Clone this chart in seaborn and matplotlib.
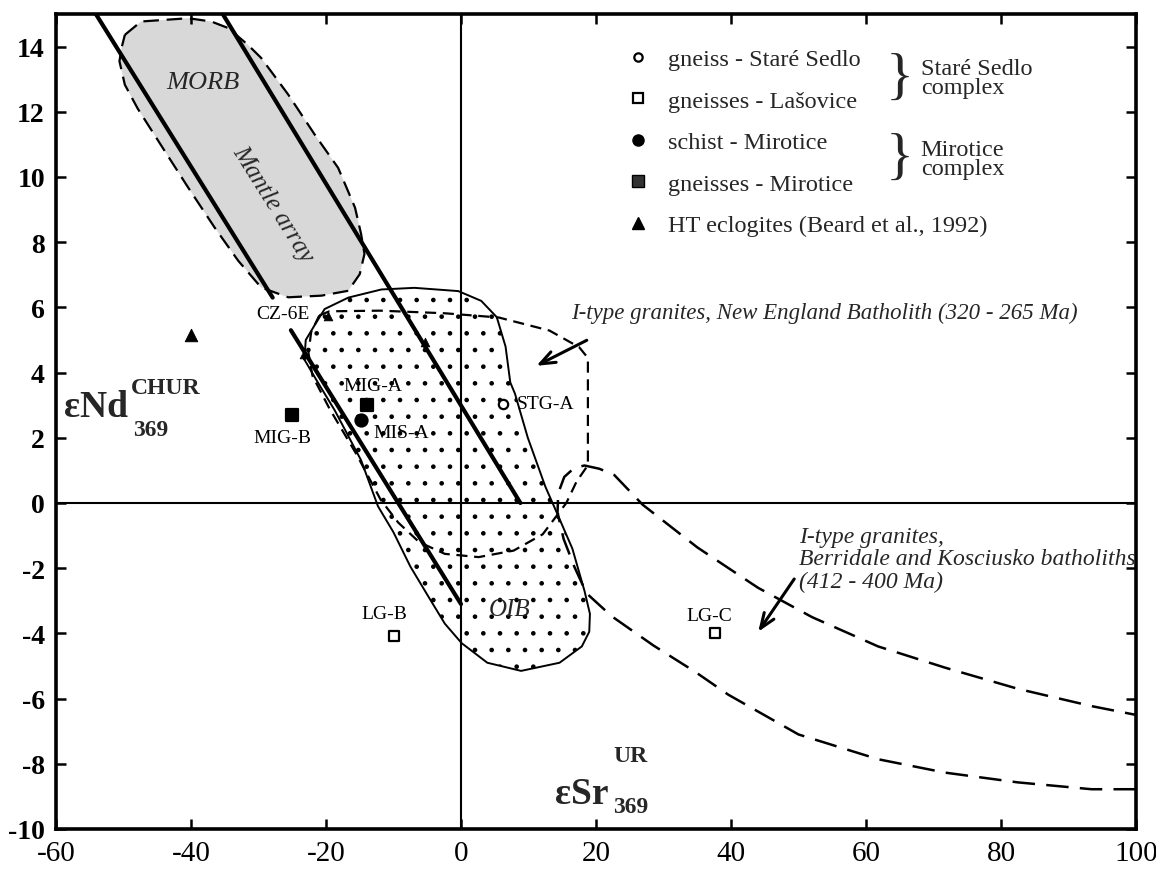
import matplotlib
matplotlib.use("Agg")
import matplotlib.pyplot as plt
import seaborn as sns
from matplotlib.lines import Line2D

# ---- axis ticks ------------------------------------------------------------
x_ticks = [-60, -40, -20, 0, 20, 40, 60, 80, 100]
y_ticks = [-10, -8, -6, -4, -2, 0, 2, 4, 6, 8, 10, 12, 14]

# ---- mantle array: two bounding lines (eSr, eNd) --------------------------
mantle_left_top_x = [-54.1, -27.9]
mantle_left_top_y = [15.0, 6.3]
mantle_left_low_x = [-25.2, 0.0]
mantle_left_low_y = [5.3, -3.1]
mantle_right_x = [-35.3, 8.8]
mantle_right_y = [15.0, 0.0]

# MORB / mantle array shaded envelope
mantle_env_x = [-49.8, -47.4, -40.4, -37.0, -34.5, -31.6, -29.6, -25.6, -21.7,
                -18.2, -15.7, -14.8, -14.3, -15.0, -16.7, -20.7, -25.6, -29.6,
                -33.0, -36.5, -40.4, -43.9, -47.9, -49.8, -50.6, -50.3, -49.8]
mantle_env_y = [14.36, 14.77, 14.87, 14.77, 14.57, 14.06, 13.65, 12.53, 11.31,
                10.28, 9.06, 8.25, 7.64, 7.02, 6.51, 6.36, 6.31, 6.61,
                7.43, 8.45, 9.67, 10.8, 12.1, 12.83, 13.55, 13.95, 14.36]

# OIB field (solid outline, dotted)
oib_x = [-23.2, -23.0, -21.7, -20.2, -16.7, -11.8, -6.9, -0.4, 3.0, 5.3, 6.6,
         7.3, 8.0, 9.9, 12.5, 14.2, 16.5, 18.3, 19.1, 19.0, 17.9, 14.6, 8.9,
         3.9, 0.1, -2.4, -4.6, -7.5, -10.0, -12.3, -14.8, -18.7, -21.5, -23.2]
oib_y = [4.4, 5.0, 5.45, 5.95, 6.3, 6.55, 6.6, 6.5, 6.2, 5.7, 4.8,
         3.7, 3.35, 2.0, 0.5, -0.3, -1.4, -2.7, -3.4, -3.95, -4.4, -4.9, -5.15,
         -4.9, -4.3, -3.7, -2.95, -1.95, -0.9, -0.1, 1.31, 2.84, 3.8, 4.4]

# I-type granites, New England Batholith (dashed)
ne_x = [-21.0, -19.5, -12.0, -2.4, 5.6, 13.1, 17.5, 18.8, 18.8, 18.8, 17.1,
        15.6, 12.1, 7.8, 2.6, -2.4, -6.2, -9.3, -11.9, -15.5, -19.5, -22.0,
        -22.6, -22.2, -21.0]
ne_y = [5.75, 5.88, 5.9, 5.82, 5.69, 5.29, 4.78, 4.45, 2.5, 1.16, 0.65,
        0.0, -0.96, -1.46, -1.66, -1.56, -1.2, -0.6, 0.1, 1.5, 2.9, 3.9,
        4.6, 5.24, 5.75]

# I-type granites, Berridale and Kosciusko batholiths (long dashes)
bk_x = [100.0, 93.4, 82.5, 71.7, 61.8, 50.0, 39.6, 34.7, 28.5, 22.3, 18.6,
        16.8, 15.2, 14.3, 14.4, 15.3, 16.8, 18.3, 20.5, 22.7, 26.9, 35.0,
        44.0, 52.0, 61.8, 71.7, 82.5, 93.4, 100.0]
bk_y = [-8.78, -8.78, -8.57, -8.27, -7.86, -7.1, -5.88, -5.18, -4.37, -3.47, -2.77,
        -1.96, -1.1, -0.3, 0.3, 0.8, 1.08, 1.15, 1.05, 0.86, -0.05, -1.36,
        -2.6, -3.5, -4.4, -5.05, -5.7, -6.23, -6.5]

# ---- samples ---------------------------------------------------------------
sample_names = ["STG-A", "LG-B", "LG-C", "MIS-A", "MIG-A", "MIG-B"]
sample_esr = [6.2, -10.0, 37.7, -14.8, -14.0, -25.0]
sample_end = [3.05, -4.07, -3.98, 2.56, 3.0, 2.69]
sample_type = ["gneiss - Staré Sedlo", "gneisses - Lašovice", "gneisses - Lašovice",
               "schist - Mirotice", "gneisses - Mirotice", "gneisses - Mirotice"]

eclogite_esr = [-40.0, -19.7, -23.2, -5.4]
eclogite_end = [5.14, 5.75, 4.58, 4.93]

legend_labels = ["gneiss - Staré Sedlo", "gneisses - Lašovice", "schist - Mirotice",
                 "gneisses - Mirotice", "HT eclogites (Beard et al., 1992)"]

# ---- style -----------------------------------------------------------------
sns.set_theme(style="ticks")
plt.rcParams["font.family"] = ["Liberation Serif", "DejaVu Serif"]
plt.rcParams["hatch.linewidth"] = 0.9
plt.rcParams["hatch.color"] = "black"

marker_style = {
    "gneiss - Staré Sedlo": dict(marker="o", facecolor="white", s=45),
    "gneisses - Lašovice": dict(marker="s", facecolor="white", s=55),
    "schist - Mirotice": dict(marker="o", facecolor="black", s=75),
    "gneisses - Mirotice": dict(marker="s", facecolor="black", s=80),
}

fig = plt.figure(figsize=(11.56, 8.70), dpi=100)
ax = fig.add_axes([56 / 1156, 40 / 870, 1080 / 1156, 815 / 870])


def outline(xs, ys, **kw):
    sns.lineplot(x=xs, y=ys, sort=False, estimator=None, ax=ax, color="black", **kw)


# fields
ax.fill(mantle_env_x, mantle_env_y, color="#d8d8d8", linewidth=0, zorder=0)
outline(mantle_env_x, mantle_env_y, linewidth=1.6, linestyle=(0, (7, 3.5)))
ax.fill(oib_x, oib_y, facecolor="none", edgecolor="black", hatch=".", linewidth=0)
outline(oib_x, oib_y, linewidth=1.4)
outline(ne_x, ne_y, linewidth=1.6, linestyle=(0, (5, 3)))
outline(bk_x, bk_y, linewidth=1.8, linestyle=(0, (9, 4.5)))

# mantle array lines
for lx, ly in [(mantle_left_top_x, mantle_left_top_y),
               (mantle_left_low_x, mantle_left_low_y),
               (mantle_right_x, mantle_right_y)]:
    outline(lx, ly, linewidth=3.0)

ax.axhline(0, color="black", linewidth=1.5, zorder=1)
ax.axvline(0, color="black", linewidth=1.5, zorder=1)

# samples
for x, y, t in zip(sample_esr, sample_end, sample_type):
    st = marker_style[t]
    sns.scatterplot(x=[x], y=[y], ax=ax, marker=st["marker"], s=st["s"],
                    facecolor=st["facecolor"], edgecolor="black", linewidth=1.6,
                    zorder=5)
sns.scatterplot(x=eclogite_esr[:1], y=eclogite_end[:1], ax=ax, marker="^", s=80,
                color="black", edgecolor="black", zorder=5)
sns.scatterplot(x=eclogite_esr[1:], y=eclogite_end[1:], ax=ax, marker="^", s=40,
                color="black", edgecolor="black", zorder=5)

# sample labels
lab = dict(fontsize=14, color="black", zorder=6)
ax.text(-22.4, 5.8, "CZ-6E", ha="right", va="center", **lab)
ax.text(-13.1, 3.6, "MIG-A", ha="center", va="center", **lab)
ax.text(-26.4, 2.0, "MIG-B", ha="center", va="center", **lab)
ax.text(-13.0, 2.17, "MIS-A", ha="left", va="center", **lab)
ax.text(8.2, 3.06, "STG-A", ha="left", va="center", **lab)
ax.text(-11.3, -3.4, "LG-B", ha="center", va="center", **lab)
ax.text(36.8, -3.45, "LG-C", ha="center", va="center", **lab)

# field names
ax.text(-38.2, 12.9, "MORB", style="italic", fontsize=19, ha="center", va="center")
ax.text(-27.9, 9.2, "Mantle array", style="italic", fontsize=18, rotation=-58,
        rotation_mode="anchor", ha="center", va="center")
ax.text(7.2, -3.25, "OIB", style="italic", fontsize=18, ha="center", va="center")
ax.text(16.3, 5.85, "I-type granites, New England Batholith (320 - 265 Ma)",
        style="italic", fontsize=16.5, ha="left", va="center")
ax.text(50.1, -1.71, "I-type granites,\nBerridale and Kosciusko batholiths\n(412 - 400 Ma)",
        style="italic", fontsize=17, ha="left", va="center", linespacing=1.1)

arrow = dict(arrowstyle="->,head_length=0.9,head_width=0.35", lw=2.2, color="black")
ax.annotate("", xy=(10.8, 4.17), xytext=(19.0, 5.03), arrowprops=arrow)
ax.annotate("", xy=(43.8, -4.02), xytext=(49.6, -2.26), arrowprops=arrow)

# axis titles written inside the frame
ax.text(-49.3, 2.95, "εNd", fontsize=27, fontweight="bold", ha="right", va="center")
ax.text(-48.9, 3.55, "CHUR", fontsize=17, fontweight="bold", ha="left", va="center")
ax.text(-48.6, 2.25, "369", fontsize=17, fontweight="bold", ha="left", va="center")
ax.text(21.8, -8.9, "εSr", fontsize=27, fontweight="bold", ha="right", va="center")
ax.text(22.6, -7.75, "UR", fontsize=17, fontweight="bold", ha="left", va="center")
ax.text(22.6, -9.3, "369", fontsize=17, fontweight="bold", ha="left", va="center")

# legend
handles = [
    Line2D([], [], ls="none", marker="o", ms=6, mfc="white", mec="black", mew=1.6),
    Line2D([], [], ls="none", marker="s", ms=7, mfc="white", mec="black", mew=1.6),
    Line2D([], [], ls="none", marker="o", ms=8, mfc="black", mec="black"),
    Line2D([], [], ls="none", marker="s", ms=8, mfc="#333333", mec="black"),
    Line2D([], [], ls="none", marker="^", ms=8, mfc="black", mec="black"),
]
ax.legend(handles, legend_labels, loc="upper left", bbox_to_anchor=(0.5277, 0.958),
          frameon=False, fontsize=17.5, handlelength=1.0, handletextpad=0.73,
          borderpad=0, borderaxespad=0, labelspacing=0.8)

ax.text(65.0, 13.0, "}", fontsize=42, ha="center", va="center")
ax.text(65.0, 10.55, "}", fontsize=42, ha="center", va="center")
ax.text(68.1, 13.03, "Staré Sedlo\ncomplex", fontsize=17.5, ha="left", va="center",
        linespacing=0.9)
ax.text(68.1, 10.55, "Mirotice\ncomplex", fontsize=17.5, ha="left", va="center",
        linespacing=0.9)

# axes
ax.set_xlim(-60, 100)
ax.set_ylim(-10, 15)
ax.set_xticks(x_ticks)
ax.set_yticks(y_ticks)
ax.set_xticklabels([str(v) for v in x_ticks], fontsize=21)
ax.set_yticklabels([str(v) for v in y_ticks], fontsize=20, fontweight="bold")
ax.tick_params(direction="in", length=7, width=1.8, top=True, right=True,
               labeltop=False, labelright=False, colors="black")
ax.tick_params(axis="x", pad=8)
ax.tick_params(axis="y", pad=8)
ax.set_xlabel("")
ax.set_ylabel("")
for sp in ax.spines.values():
    sp.set_linewidth(2.6)
    sp.set_color("black")
    sp.set_visible(True)

fig.savefig("out.png", dpi=100)
